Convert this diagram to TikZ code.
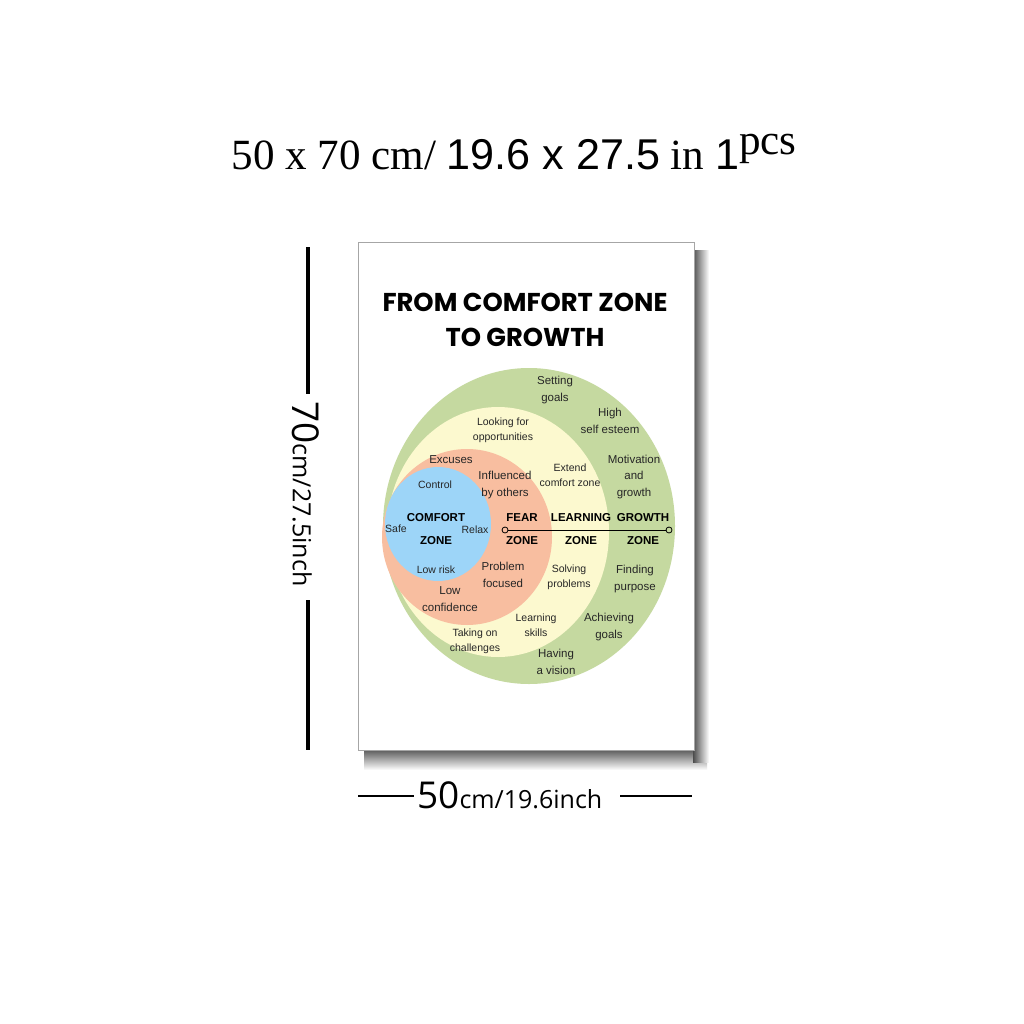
\documentclass[tikz,border=0pt]{standalone}
\usepackage{fontspec}
\usepackage{graphicx}
\setmainfont{Liberation Sans}
\newfontfamily\titlefont{Poppins}
\newfontfamily\serifont{Liberation Serif}
\newfontfamily\dimfont{Open Sans}
\definecolor{zgreen}{RGB}{197,217,160}
\definecolor{zyellow}{RGB}{252,249,207}
\definecolor{zsalmon}{RGB}{248,190,160}
\definecolor{zblue}{RGB}{157,213,248}
\tikzset{
  lbl/.style={align=center, inner sep=0pt, font=\fontsize{11.5}{16.5}\selectfont, text=black!85},
  slbl/.style={align=center, inner sep=0pt, font=\fontsize{10.5}{15}\selectfont, text=black!85},
  zone/.style={align=center, inner sep=0pt, font=\fontsize{11.5}{23}\selectfont\bfseries},
  endpt/.style={circle, draw=black, line width=0.8pt, inner sep=0pt, minimum size=6pt},
  dimline/.style={line width=3.5pt, black},
}
\begin{document}
\begin{tikzpicture}[x=1pt,y=-1pt]
\fill[white] (0,0) rectangle (1024,1024);
% heading
\node[anchor=base, inner sep=0pt] (head) at (514,170) {\resizebox{565pt}{!}{\serifont 50 x 70 cm/ {\fontspec{Liberation Sans}19.6 x 27.5} in {\fontspec{Liberation Sans}1}\raisebox{0.35em}{pcs}}};
% poster shadow
\shade[top color=black!70, bottom color=white] (364,748) rectangle (707,770);
\shade[left color=black!70, right color=white] (693,250) rectangle (709,762);
% poster
\fill[white] (358,242) rectangle (694,750);
\draw[black!35, line width=0.6pt] (358,242) rectangle (694,750);
% title
\node[align=center, inner sep=0pt, font=\titlefont\bfseries\fontsize{25.8}{34.5}\selectfont] (title) at (525,320) {FROM COMFORT ZONE\\TO GROWTH};
% zones
\fill[zgreen] (529,526) ellipse [x radius=146pt, y radius=158pt];
\fill[zyellow] (498,532) ellipse [x radius=111pt, y radius=125pt];
\fill[zsalmon] (467,537) ellipse [x radius=85pt, y radius=88pt];
\fill[zblue] (438,524) ellipse [x radius=53pt, y radius=57pt];
% axis line
\node[endpt, fill=zsalmon] (la) at (505,530) {};
\node[endpt, fill=zgreen] (lb) at (669,530) {};
\draw[line width=0.9pt] (la) -- (lb);
% zone names
\node[zone] (zc) at (436,529) {COMFORT\\ZONE};
\node[zone] (zf) at (522,529) {FEAR\\ZONE};
\node[zone] (zl) at (581,529) {LEARNING\\ZONE};
\node[zone] (zg) at (643,529) {GROWTH\\ZONE};
% labels
\node[lbl] (t1) at (555,390) {Setting\\goals};
\node[lbl] (t2) at (610,421) {High\\self esteem};
\node[slbl] (t3) at (503,430) {Looking for\\opportunities};
\node[lbl] (t4) at (451,460) {Excuses};
\node[slbl] (t5) at (570,475) {Extend\\comfort zone};
\node[lbl] (t6) at (634,477) {Motivation\\and\\growth};
\node[lbl] (t7) at (505,485) {Influenced\\by others};
\node[slbl] (t8) at (435,485) {Control};
\node[slbl] (t9) at (396,529) {Safe};
\node[slbl] (t10) at (475,530) {Relax};
\node[slbl] (t11) at (436,570) {Low risk};
\node[lbl] (t12) at (503,575) {Problem\\focused};
\node[slbl] (t13) at (569,577) {Solving\\problems};
\node[lbl] (t14) at (635,579) {Finding\\purpose};
\node[lbl] (t15) at (450,599) {Low\\confidence};
\node[slbl] (t16) at (536,625) {Learning\\skills};
\node[lbl] (t17) at (609,627) {Achieving\\goals};
\node[slbl] (t18) at (475,641) {Taking on\\challenges};
\node[lbl] (t19) at (556,662) {Having\\a vision};
% left dimension
\coordinate (v1) at (308,247);
\coordinate (v2) at (308,394);
\coordinate (v3) at (308,600);
\coordinate (v4) at (308,750);
\draw[dimline] (v1) -- (v2);
\draw[dimline] (v3) -- (v4);
\node[rotate=-90, inner sep=0pt, font=\dimfont] (vt) at (306,494) {{\fontsize{37}{37}\selectfont 70}{\fontsize{25}{25}\selectfont cm/27.5inch}};
% bottom dimension
\coordinate (h1) at (358,796);
\coordinate (h2) at (414,796);
\coordinate (h3) at (620,796);
\coordinate (h4) at (692,796);
\draw[line width=2.2pt] (h1) -- (h2);
\draw[line width=2.2pt] (h3) -- (h4);
\node[anchor=base west, inner sep=0pt, font=\dimfont] (ht) at (417,808) {{\fontsize{37}{37}\selectfont 50}{\fontsize{25}{25}\selectfont cm/19.6inch}};
\end{tikzpicture}
\end{document}
